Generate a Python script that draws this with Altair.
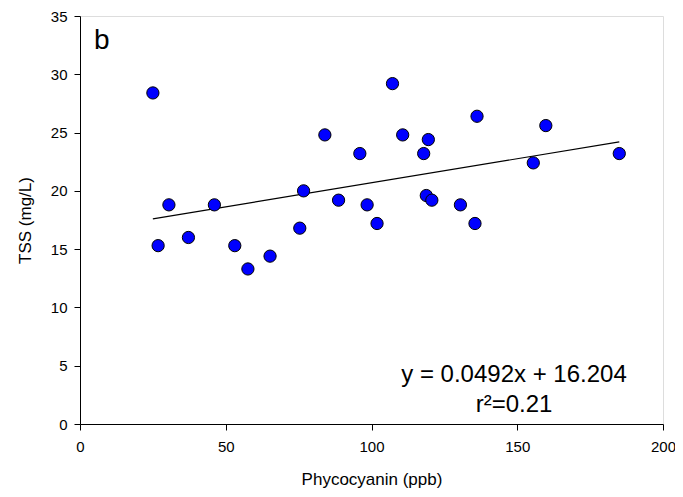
import altair as alt
import pandas as pd

phyco = [25.0, 26.8, 30.5, 37.2, 46.1, 53.1, 57.6, 65.2, 75.4, 76.7, 84.0, 88.7, 96.0, 98.5,
         101.9, 107.2, 110.7, 117.9, 118.8, 119.5, 120.7, 130.5, 135.5, 136.2, 155.5, 159.8, 185.0]
tss = [28.4, 15.3, 18.8, 16.0, 18.8, 15.3, 13.3, 14.4, 16.8, 20.0, 24.8, 19.2, 23.2, 18.8,
       17.2, 29.2, 24.8, 23.2, 19.6, 24.4, 19.2, 18.8, 17.2, 26.4, 22.4, 25.6, 23.2]
fit_x = [25.0, 185.0]
fit_y = [17.6, 24.2]

pts = pd.DataFrame({"x": phyco, "y": tss})
fit = pd.DataFrame({"x": fit_x, "y": fit_y})

FONT = "Liberation Sans"

xs = alt.Scale(domain=[0, 200], nice=False, zero=False)
ys = alt.Scale(domain=[0, 35], nice=False, zero=False)

xax = alt.Axis(values=[0, 50, 100, 150, 200], grid=False, title="Phycocyanin (ppb)",
               tickSize=6, labelFontSize=15, titleFontSize=17, labelPadding=9, titlePadding=17,
               titleFontWeight="normal", domainColor="black", tickColor="black",
               labelColor="black", titleColor="black", labelFont=FONT, titleFont=FONT,
               labelFlush=False)
yax = alt.Axis(values=list(range(0, 36, 5)), grid=False, title="TSS (mg/L)",
               tickSize=6, labelFontSize=15, titleFontSize=17, labelPadding=7, titlePadding=16,
               titleFontWeight="normal", domainColor="black", tickColor="black",
               labelColor="black", titleColor="black", labelFont=FONT, titleFont=FONT,
               labelFlush=False)

line = alt.Chart(fit).mark_line(color="black", strokeWidth=1.2).encode(
    x=alt.X("x:Q", scale=xs, axis=xax), y=alt.Y("y:Q", scale=ys, axis=yax))

points = alt.Chart(pts).mark_point(filled=True, fill="#0000FF", stroke="black",
                                   strokeWidth=1, size=150, opacity=1).encode(
    x=alt.X("x:Q", scale=xs), y=alt.Y("y:Q", scale=ys))

labels = pd.DataFrame({"t": ["b"]})
blabel = alt.Chart(labels).mark_text(fontSize=28, font=FONT, align="left", baseline="middle",
                                     color="black").encode(
    x=alt.value(14), y=alt.value(25), text="t:N")

eq = alt.Chart(pd.DataFrame({"t": ["y = 0.0492x + 16.204"]})).mark_text(
    fontSize=24, font=FONT, align="center", baseline="middle", color="black").encode(
    x=alt.value(434), y=alt.value(359), text="t:N")
r2 = alt.Chart(pd.DataFrame({"t": ["r²=0.21"]})).mark_text(
    fontSize=24, font=FONT, align="center", baseline="middle", color="black").encode(
    x=alt.value(434), y=alt.value(389), text="t:N")

chart = alt.layer(line, points, blabel, eq, r2).properties(
    width=583, height=408,
    autosize=alt.AutoSizeParams(type="none"),
    padding={"left": 72, "top": 8, "right": 12, "bottom": 65},
).configure_view(stroke="black", strokeWidth=1).configure(background="white")

chart.save("out.html", embed_options={"renderer": "svg", "actions": False})
